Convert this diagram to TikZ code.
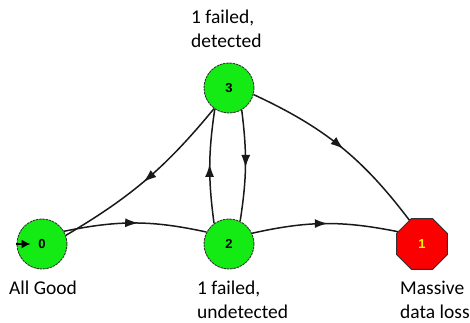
\documentclass[tikz,border=0pt]{standalone}
\usepackage{fontspec}
\setmainfont{Carlito}
\newfontfamily\digitfont{Liberation Sans}
\usetikzlibrary{arrows.meta,shapes.geometric,decorations.markings}

\definecolor{stategreen}{RGB}{20,235,20}
\definecolor{statered}{RGB}{250,0,0}
\definecolor{ringgray}{RGB}{50,50,50}

\tikzset{
  state/.style={circle, minimum size=50pt, inner sep=0pt, fill=stategreen,
    draw=ringgray, line width=0.9pt, dash pattern=on 2.5pt off 0.8pt,
    font=\digitfont\bfseries\fontsize{13}{13}\selectfont},
  lossstate/.style={regular polygon, regular polygon sides=8, minimum size=55pt,
    inner sep=0pt, fill=statered, draw=ringgray, line width=0.9pt,
    text=yellow, font=\digitfont\bfseries\fontsize{13}{13}\selectfont},
  caption/.style={align=left, inner sep=0pt, anchor=base west,
    font=\fontsize{19.5}{24}\selectfont},
  trans/.style={line width=1.5pt, draw=black!90,
    postaction={decorate},
    decoration={markings, mark=at position 0.52 with {\arrow{Latex[length=13pt,width=9pt]}}}},
  startarrow/.style={line width=1.5pt, -{Latex[length=9pt,width=9pt]}}
}

\begin{document}
\begin{tikzpicture}[x=1pt,y=1pt]
  \useasboundingbox (0,0) rectangle (470,322);

  % states
  \node[state]     (s0) at (42,78)  {0};
  \node[state]     (s2) at (229,78) {2};
  \node[state]     (s3) at (229,234) {3};
  \node[lossstate] (s1) at (422,78) {1};

  % state captions (anchored at the baseline of the last line)
  \node[caption] (c0) at (9,28)   {All Good};
  \node[caption] (c2) at (197,4)  {1 failed,\\undetected};
  \node[caption] (c3) at (191,275) {1 failed,\\detected};
  \node[caption] (c1) at (400,4)  {Massive\\data loss};

  % transitions
  \draw[trans] (s0.30)  to[bend left=12] (s2.152);
  \draw[trans] (s3.234) to[bend left=10] (s0.20);
  \draw[trans] (s2.126) to[bend left=8]  (s3.236);
  \draw[trans] (s3.300) to[bend left=8]  (s2.64);
  \draw[trans] (s3.345) to[bend left=14] (s1.118);
  \draw[trans] (s2.25)  to[bend left=12] (s1.153);

  % initial state marker
  \coordinate (inittip) at ([xshift=14pt]s0.west);
  \draw[startarrow] ([xshift=-1pt]s0.west) -- (inittip);
\end{tikzpicture}
\end{document}
